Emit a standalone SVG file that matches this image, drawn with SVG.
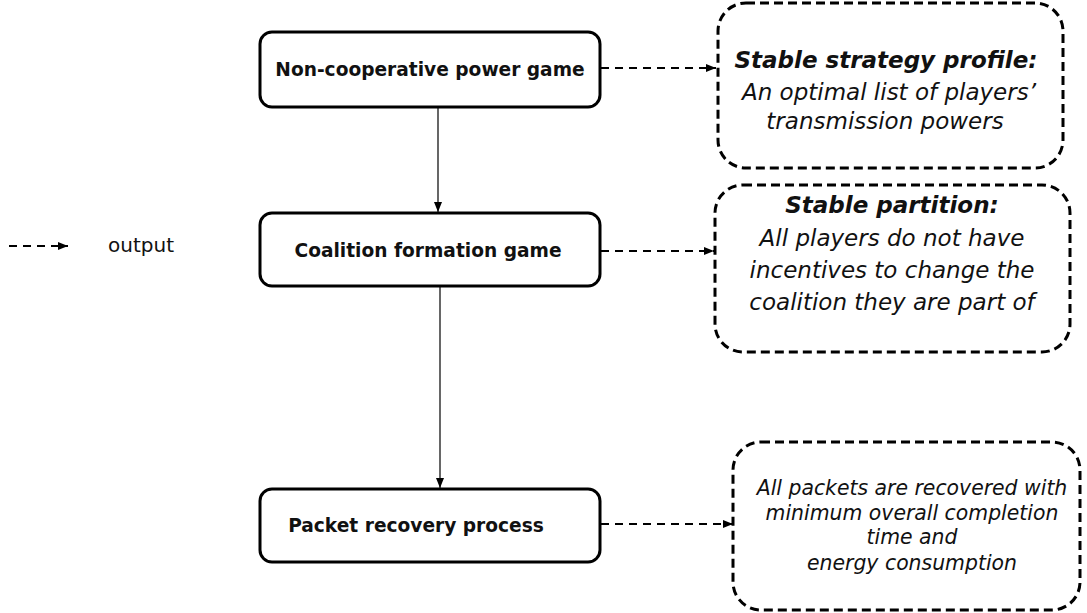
<svg xmlns="http://www.w3.org/2000/svg" width="1087" height="613" viewBox="0 0 1087 613">
<style>
.box{fill:#fff;stroke:#000;stroke-width:3}
.out{fill:#fff;stroke:#000;stroke-width:3;stroke-dasharray:9 5}
.lbl{font-family:"DejaVu Sans",sans-serif;font-weight:bold;font-size:18.6px;text-anchor:middle;fill:#111}
.it{font-family:"DejaVu Sans",sans-serif;font-style:italic;font-size:23px;text-anchor:middle;fill:#111}
.itb{font-weight:bold}
.sm{font-size:20.4px}
.solid{stroke:#000;stroke-width:1.2;fill:none}
.dash{stroke:#000;stroke-width:2;fill:none;stroke-dasharray:8 6}
.leg{font-family:"DejaVu Sans",sans-serif;font-size:20px;fill:#111}
</style>
<defs>
<marker id="ah" viewBox="0 0 10 10" refX="10" refY="5" markerWidth="10" markerHeight="10" markerUnits="userSpaceOnUse" orient="auto">
<path d="M0,1 L10,5 L0,9 Z" fill="#000"/>
</marker>
</defs>
<g id="connectors">
<line class="solid" x1="438" y1="107" x2="438" y2="212" marker-end="url(#ah)"/>
<line class="solid" x1="440" y1="286" x2="440" y2="488" marker-end="url(#ah)"/>
<line class="dash" x1="601" y1="68" x2="716" y2="68" marker-end="url(#ah)"/>
<line class="dash" x1="601" y1="251" x2="714" y2="251" marker-end="url(#ah)"/>
<line class="dash" x1="601" y1="524" x2="733" y2="524" marker-end="url(#ah)"/>
<line class="dash" x1="9" y1="246" x2="68" y2="246" marker-end="url(#ah)"/>
</g>
<g id="legend">
<text class="leg" x="108" y="252">output</text>
</g>
<g id="n1">
<rect class="box" x="260" y="32" width="340" height="75" rx="12"/>
<text class="lbl" x="430" y="76">Non-cooperative power game</text>
</g>
<g id="n2">
<rect class="box" x="260" y="213" width="340" height="73" rx="12"/>
<text class="lbl" x="428" y="257">Coalition formation game</text>
</g>
<g id="n3">
<rect class="box" x="260" y="489" width="340" height="73" rx="12"/>
<text class="lbl" x="416" y="532">Packet recovery process</text>
</g>
<g id="o1">
<rect class="out" x="718" y="3" width="345" height="165" rx="28"/>
<text class="it" x="886" y="68"><tspan class="itb">Stable strategy profile:</tspan></text>
<text class="it" x="889" y="100">An optimal list of players’</text>
<text class="it" x="885" y="129">transmission powers</text>
</g>
<g id="o2">
<rect class="out" x="715" y="185" width="355" height="167" rx="28"/>
<text class="it" x="892" y="213"><tspan class="itb">Stable partition:</tspan></text>
<text class="it" x="892" y="246">All players do not have</text>
<text class="it" x="892" y="278">incentives to change the</text>
<text class="it" x="892" y="310">coalition they are part of</text>
</g>
<g id="o3">
<rect class="out" x="733" y="442" width="347" height="168" rx="28"/>
<text class="it sm" x="912" y="495">All packets are recovered with</text>
<text class="it sm" x="912" y="520">minimum overall completion</text>
<text class="it sm" x="912" y="544">time and</text>
<text class="it sm" x="912" y="570">energy consumption</text>
</g>
</svg>
